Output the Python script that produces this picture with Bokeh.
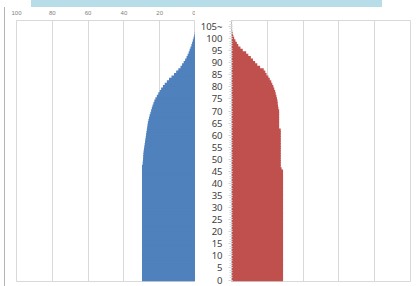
from bokeh.plotting import figure
from bokeh.layouts import row, column
from bokeh.models import Range1d, FixedTicker, ColumnDataSource, Div
from bokeh.embed import file_html
from bokeh.resources import INLINE

ages = list(range(0, 106))
age_ticks = list(range(0, 106, 5))
age_tick_labels = {105: "105~"}
x_ticks = [0, 20, 40, 60, 80, 100]

male = (
    [29.9] * 48 +
    [29.5, 29.4, 29.3, 29.2, 29.1,
     29.0, 28.8, 28.6, 28.4, 28.2, 28.0, 27.8,
     27.6, 27.4, 27.2, 27.0, 26.8, 26.6, 26.3,
     26.0, 25.6, 25.2, 24.8, 24.4,
     24.0, 23.5, 23.0, 22.4,
     21.6, 20.8, 20.0, 19.2, 18.2,
     17.2, 16.0, 14.8, 13.4,
     12.0, 10.8, 9.6, 8.4,
     7.5, 6.6, 5.8, 5.0,
     4.4, 3.8, 3.3, 2.8,
     2.3, 1.9, 1.5, 1.1,
     0.7, 0.4, 0.3, 0.2, 0.2]
)
female = (
    [28.8] * 46 +
    [28.0] + [27.5] * 16 +
    [26.6] * 8 +
    [26.2, 26.0, 25.8,
     25.7, 25.4, 25.1, 24.7, 24.4, 23.9, 23.4, 22.8, 22.2, 21.4, 20.6,
     19.6, 18.9, 18.0, 16.0, 14.4, 13.2, 12.0, 10.8, 9.4, 8.2,
     6.3, 5.0, 3.8, 3.0, 2.2, 1.5, 1.0, 0.6, 0.4, 0.2, 0.3]
)

src = ColumnDataSource(dict(age=ages, male=male, female=female))

GRID = "#d9d9d9"
BLUE = "#4f81bd"
RED = "#c0504d"
yr = Range1d(-0.6, 107.5)

# left (male) panel
p1 = figure(width=190, height=279, x_range=Range1d(100, 0), y_range=yr,
            output_backend="svg", toolbar_location=None, x_axis_location="above",
            min_border_left=11, min_border_right=0, min_border_top=9, min_border_bottom=5)
p1.hbar(y="age", left=0, right="male", height=1.5, source=src,
        fill_color=BLUE, line_color=None)
p1.yaxis.visible = False
p1.xaxis.ticker = FixedTicker(ticks=x_ticks)
p1.xaxis.axis_line_color = None
p1.xaxis.major_tick_line_color = None
p1.xaxis.minor_tick_line_color = None
p1.xaxis.major_label_standoff = 0
p1.xaxis.major_label_text_font_size = "6px"
p1.xaxis.major_label_text_color = "#7f7f7f"
p1.xgrid.ticker = FixedTicker(ticks=x_ticks)
p1.xgrid.grid_line_color = GRID
p1.ygrid.grid_line_color = None
p1.outline_line_color = GRID
p1.background_fill_color = "white"
p1.border_fill_color = "white"

# right (female) panel
p2 = figure(width=222, height=279, x_range=Range1d(0, 100), y_range=yr,
            output_backend="svg", toolbar_location=None,
            min_border_left=36, min_border_right=7, min_border_top=9, min_border_bottom=5)
p2.hbar(y="age", left=0, right="female", height=1.5, source=src,
        fill_color=RED, line_color=None)
p2.xaxis.visible = False
p2.yaxis.ticker = FixedTicker(ticks=age_ticks, minor_ticks=ages + [106, 107])
p2.yaxis.major_label_overrides = age_tick_labels
p2.yaxis.axis_line_color = "#bfbfbf"
p2.yaxis.major_tick_line_color = "#d0d0d0"
p2.yaxis.minor_tick_line_color = "#d9d9d9"
p2.yaxis.major_tick_out = 3
p2.yaxis.major_tick_in = 1
p2.yaxis.minor_tick_out = 2
p2.yaxis.minor_tick_in = 1
p2.yaxis.major_label_standoff = 6
p2.yaxis.major_label_text_font = "Noto Sans"
p2.yaxis.major_label_text_font_size = "9.5px"
p2.yaxis.major_label_text_color = "#404040"
p2.xgrid.ticker = FixedTicker(ticks=x_ticks)
p2.xgrid.grid_line_color = GRID
p2.ygrid.grid_line_color = None
p2.outline_line_color = GRID
p2.background_fill_color = "white"
p2.border_fill_color = "white"

banner = Div(text="", width=351, height=7, margin=(0, 0, 0, 31),
             styles={"background-color": "#b7dde8"})
edge = Div(text="", width=1, height=279, margin=(0, 0, 0, 4),
           styles={"background-color": "#b4b4b4"})

layout = column(banner, row(edge, p1, p2))
open("out.html", "w").write(file_html(layout, INLINE))
